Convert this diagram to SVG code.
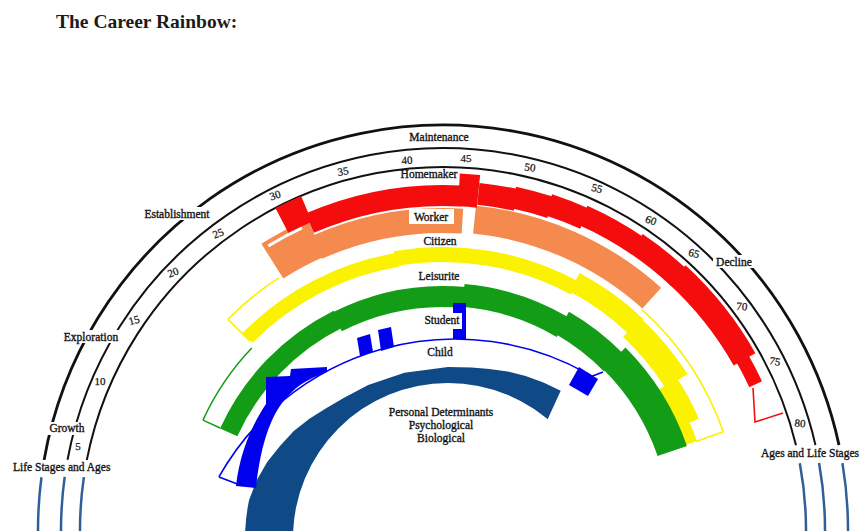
<svg xmlns="http://www.w3.org/2000/svg" width="866" height="531" viewBox="0 0 866 531">
<style>
.t{font-family:"Liberation Serif","Times New Roman",serif;font-size:11.5px;fill:#151515;stroke:#151515;stroke-width:0.35}
.m{text-anchor:middle}
.n{font-family:"Liberation Serif","Times New Roman",serif;font-size:11px;fill:#151515;stroke:#151515;stroke-width:0.25;text-anchor:middle}
.s{fill:none}
.R{stroke:#f50d0d}.O{stroke:#f48a4e}.Y{stroke:#faf200}.G{stroke:#139d16}.B{stroke:#0000ee}.W{stroke:#fff}
.ln{fill:none;stroke-width:1.6}
.wb{fill:#fff}
</style>
<rect width="866" height="531" fill="#fff"/>
<text x="56" y="28" font-family="Liberation Serif, serif" font-weight="bold" font-size="19.5" fill="#1b1b1b">The Career Rainbow:</text>

<g id="age-arcs" fill="none" stroke="#111">
<circle cx="443" cy="530" r="405" stroke-width="2.8" pathLength="360" stroke-dasharray="157.95 720" transform="rotate(-170.05 443 530)"/>
<circle cx="443" cy="530" r="382" stroke-width="2" pathLength="360" stroke-dasharray="156.55 720" transform="rotate(-169.4 443 530)"/>
<circle cx="443" cy="530" r="363" stroke-width="2" pathLength="360" stroke-dasharray="155.4 720" transform="rotate(-168.9 443 530)"/>
</g>
<g id="base-lines" fill="none" stroke="#2f5f95" stroke-width="2.5">
<circle cx="443" cy="530" r="405" pathLength="360" stroke-dasharray="8.5 720" transform="rotate(-181 443 530)"/>
<circle cx="443" cy="530" r="382" pathLength="360" stroke-dasharray="9 720" transform="rotate(-181 443 530)"/>
<circle cx="443" cy="530" r="363" pathLength="360" stroke-dasharray="9.4 720" transform="rotate(-181 443 530)"/>
<circle cx="443" cy="530" r="405" pathLength="360" stroke-dasharray="10.5 720" transform="rotate(-9.5 443 530)"/>
<circle cx="443" cy="530" r="382" pathLength="360" stroke-dasharray="11.1 720" transform="rotate(-10.1 443 530)"/>
<circle cx="443" cy="530" r="363" pathLength="360" stroke-dasharray="11.6 720" transform="rotate(-10.6 443 530)"/>
</g>

<g id="worker">
<circle class="s O" cx="443" cy="530" r="318.5" stroke-width="41" pathLength="360" stroke-dasharray="8.9 720" transform="rotate(-122.4 443 530)"/>
<circle class="s W" cx="443" cy="530" r="333.5" stroke-width="3" pathLength="360" stroke-dasharray="6.6 720" transform="rotate(-121.6 443 530)"/>
<circle class="s O" cx="443" cy="530" r="309.5" stroke-width="25" pathLength="360" stroke-dasharray="27.6 720" transform="rotate(-114 443 530)"/>
<circle class="s O" cx="443" cy="530" r="312" stroke-width="28" pathLength="360" stroke-dasharray="36.2 720" transform="rotate(-84.2 443 530)"/>
</g>

<g id="homemaker">
<circle class="s R" cx="443" cy="530" r="349" stroke-width="28" pathLength="360" stroke-dasharray="4.5 720" transform="rotate(-117.5 443 530)"/>
<circle class="s R" cx="443" cy="530" r="334.5" stroke-width="21" pathLength="360" stroke-dasharray="26.7 720" transform="rotate(-113.5 443 530)"/>
<circle class="s R" cx="443" cy="530" r="340.5" stroke-width="33" pathLength="360" stroke-dasharray="3.3 720" transform="rotate(-87.3 443 530)"/>
<circle class="s R" cx="443" cy="530" r="338" stroke-width="22" pathLength="360" stroke-dasharray="6.5 720" transform="rotate(-84 443 530)"/>
<circle class="s R" cx="443" cy="530" r="340" stroke-width="22" pathLength="360" stroke-dasharray="6.5 720" transform="rotate(-78 443 530)"/>
<circle class="s R" cx="443" cy="530" r="342" stroke-width="22" pathLength="360" stroke-dasharray="6.5 720" transform="rotate(-72 443 530)"/>
<circle class="s R" cx="443" cy="530" r="344.5" stroke-width="21" pathLength="360" stroke-dasharray="10.5 720" transform="rotate(-66 443 530)"/>
<circle class="s R" cx="443" cy="530" r="345.5" stroke-width="23" pathLength="360" stroke-dasharray="9 720" transform="rotate(-56 443 530)"/>
<circle class="s R" cx="443" cy="530" r="346.5" stroke-width="25" pathLength="360" stroke-dasharray="18 720" transform="rotate(-47.5 443 530)"/>
<circle class="s R" cx="443" cy="530" r="345" stroke-width="14" pathLength="360" stroke-dasharray="5 720" transform="rotate(-30 443 530)"/>
<path class="ln R" d="M753,388 L755,422 L783,413"/>
</g>

<g id="citizen">
<circle class="s Y" cx="443" cy="530" r="274" stroke-width="14" pathLength="360" stroke-dasharray="36 720" transform="rotate(-135.5 443 530)"/>
<circle class="s Y" cx="443" cy="530" r="275.5" stroke-width="15" pathLength="360" stroke-dasharray="38.5 720" transform="rotate(-100 443 530)"/>
<circle class="s Y" cx="443" cy="530" r="280.5" stroke-width="21" pathLength="360" stroke-dasharray="15.5 720" transform="rotate(-62 443 530)"/>
<circle class="s Y" cx="443" cy="530" r="277" stroke-width="26" pathLength="360" stroke-dasharray="14.5 720" transform="rotate(-47 443 530)"/>
<circle class="s Y" cx="443" cy="530" r="267.5" stroke-width="23" pathLength="360" stroke-dasharray="9.5 720" transform="rotate(-33 443 530)"/>
<circle class="s Y" cx="443" cy="530" r="261.5" stroke-width="15" pathLength="360" stroke-dasharray="4.7 720" transform="rotate(-24 443 530)"/>
<circle class="ln Y" cx="443" cy="530" r="297" pathLength="360" stroke-dasharray="28.7 720" transform="rotate(-48 443 530)"/>
<path class="ln Y" d="M695.9,441.4 L723.3,431.8"/>
<circle class="ln Y" cx="443" cy="530" r="301" pathLength="360" stroke-dasharray="12.6 720" transform="rotate(-135.6 443 530)"/>
<path class="ln Y" d="M250.1,341.1 L227.9,319.4"/>
</g>

<g id="leisurite">
<circle class="s G" cx="443" cy="530" r="235.5" stroke-width="19" pathLength="360" stroke-dasharray="39 720" transform="rotate(-155.5 443 530)"/>
<circle class="s G" cx="443" cy="530" r="233.5" stroke-width="21" pathLength="360" stroke-dasharray="32.5 720" transform="rotate(-117 443 530)"/>
<circle class="s G" cx="443" cy="530" r="235.5" stroke-width="23" pathLength="360" stroke-dasharray="25.5 720" transform="rotate(-85 443 530)"/>
<circle class="s G" cx="443" cy="530" r="239" stroke-width="26" pathLength="360" stroke-dasharray="15.5 720" transform="rotate(-60 443 530)"/>
<circle class="s G" cx="443" cy="530" r="242.5" stroke-width="31" pathLength="360" stroke-dasharray="26 720" transform="rotate(-45 443 530)"/>
<circle class="s G" cx="443" cy="530" r="264" stroke-width="1.5" pathLength="360" stroke-dasharray="19 720" transform="rotate(-155.4 443 530)"/>
<path class="s G" stroke-width="1.5" d="M220.2,428 L202.9,420.1"/>
</g>

<g id="personal-determinants">
<path fill="#0f4a86" d="M245,545 L245,535 Q245.5,517 249.1,499.9 L256.7,480.2 L267.2,462 L280.2,445.8 L293.8,431 L309.4,418.7 L325.7,408.4 L344.5,397.6 L368.2,384.9 L404.5,372.7 L448,367 L471.5,367.6 L489.4,369.1 L507.5,371.5 L525.6,375.9 L543.4,382.4 L560.7,390.8 L545,425 L448,440 L300,545 Z"/>
<circle cx="448" cy="538" r="155" fill="#fff"/>
</g>

<g id="child">
<circle class="ln B" cx="455" cy="610" r="271" pathLength="360" stroke-dasharray="90.6 720" transform="rotate(-150.6 455 610)"/>
<path class="ln B" d="M219,477 L240,485 M590,377 L603,372"/>
</g>

<g id="student" fill="#0000ee">
<path d="M236,486 C240,452 252,425 266,404 L266,377 L290,376 L291,369 L327,367 L327,372 C318,375 300,383 292,392 C278,404 262,430 256,488 Z"/>
<polygon points="357,338 370,334 373,352 360,356"/>
<polygon points="378,330 391,327 394,347 381,351"/>
<rect x="453" y="303" width="13" height="36"/>
<polygon points="579,367 598,379 588,396 569,385"/>
</g>

<g id="labels">
<rect class="wb" x="140" y="207" width="74" height="13"/>
<rect class="wb" x="60" y="330" width="62" height="13"/>
<rect class="wb" x="46" y="422" width="43" height="13"/>
<rect class="wb" x="11" y="460" width="106" height="14"/>
<rect class="wb" x="713" y="255" width="42" height="13"/>
<rect class="wb" x="759" y="446" width="107" height="14"/>
<rect class="wb" x="409" y="209" width="45" height="15"/>
<rect class="wb" x="421" y="313" width="41" height="16"/>
<text class="t m" x="439" y="141">Maintenance</text>
<text class="t m" x="177" y="218">Establishment</text>
<text class="t m" x="91" y="341">Exploration</text>
<text class="t m" x="67" y="432">Growth</text>
<text class="t" x="13" y="471">Life Stages and Ages</text>
<text class="t m" x="734" y="266">Decline</text>
<text class="t" x="761" y="457">Ages and Life Stages</text>
<text class="t m" x="429" y="178">Homemaker</text>
<text class="t m" x="431" y="221">Worker</text>
<text class="t m" x="440" y="245">Citizen</text>
<text class="t m" x="439" y="280">Leisurite</text>
<text class="t m" x="442" y="324">Student</text>
<text class="t m" x="440" y="356">Child</text>
<text class="t m" x="441" y="416">Personal Determinants</text>
<text class="t m" x="441" y="429">Psychological</text>
<text class="t m" x="441" y="442">Biological</text>
</g>

<g id="ages">
<text class="n" x="78" y="450">5</text>
<text class="n" x="100" y="385">10</text>
<text class="n" x="134" y="324" transform="rotate(-15 134 320)">15</text>
<text class="n" x="173" y="276" transform="rotate(-20 173 272)">20</text>
<text class="n" x="218" y="237" transform="rotate(-22 218 233)">25</text>
<text class="n" x="275" y="199" transform="rotate(-18 275 195)">30</text>
<text class="n" x="343" y="175" transform="rotate(-10 343 171)">35</text>
<text class="n" x="407" y="164" transform="rotate(-4 407 160)">40</text>
<text class="n" x="466" y="162">45</text>
<text class="n" x="530" y="171" transform="rotate(8 530 167)">50</text>
<text class="n" x="597" y="192" transform="rotate(15 597 188)">55</text>
<text class="n" x="651" y="224" transform="rotate(20 651 220)">60</text>
<text class="n" x="694" y="257" transform="rotate(15 694 253)">65</text>
<text class="n" x="742" y="310" transform="rotate(6 742 306)">70</text>
<text class="n" x="775" y="365" transform="rotate(10 775 361)">75</text>
<text class="n" x="800" y="427" transform="rotate(5 800 423)">80</text>
</g>
</svg>
